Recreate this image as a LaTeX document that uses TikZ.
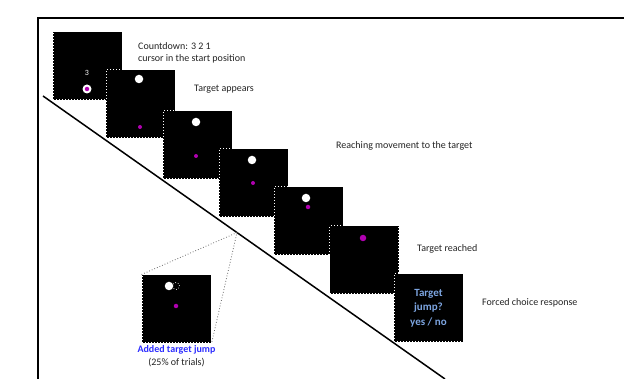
\documentclass[tikz,border=0pt]{standalone}
\usepackage{fontspec}
\setmainfont{Carlito}
\usetikzlibrary{calc}
\usepackage{xcolor}
\definecolor{cursormag}{RGB}{176,0,176}
\definecolor{askblue}{RGB}{125,165,225}
\definecolor{jumpblue}{RGB}{45,45,255}
\definecolor{captiongray}{RGB}{35,35,35}

\tikzset{
  screen/.style={fill=black, draw=white, dash pattern=on 1pt off 2pt, line width=1pt,
    minimum width=69pt, minimum height=68pt, inner sep=0pt},
  target/.style={circle, fill=white, minimum size=8.5pt, inner sep=0pt},
  cursor/.style={circle, fill=cursormag, minimum size=4.5pt, inner sep=0pt},
  caption/.style={anchor=west, text=captiongray, font=\fontsize{10}{12}\selectfont, inner sep=0pt}
}

\begin{document}
\begin{tikzpicture}[x=1pt,y=-1pt]
  \useasboundingbox (0,0) rectangle (624,379);
  % frame and time axis
  \draw[line width=1.2pt] (38,379) -- (38,18) -- (624,18);
  \coordinate (d1) at (43,96);
  \coordinate (d2) at (445,379);
  \draw[line width=1.5pt] (d1) -- (d2);

  % countdown
  \node[screen] (s1) at (87.5,66) {};
  \node[text=white, font=\fontsize{8}{9}\selectfont, inner sep=0pt] (n1) at (87,73) {3};
  \node[target, minimum size=9pt] (t1) at (87,89) {};
  \node[cursor] (c1) at (87,89) {};
  \node[caption] (l1a) at (138,46) {Countdown: 3 2 1};
  \node[caption] (l1b) at (138,59) {cursor in the start position};

  % target appears
  \node[screen] (s2) at (140.5,104) {};
  \node[target] (t2) at (139,79) {};
  \node[cursor, minimum size=4pt] (c2) at (140,127) {};
  \node[caption] (l2) at (194,89) {Target appears};

  % reaching movement
  \node[screen] (s3) at (197.5,145) {};
  \node[target] (t3) at (196,122) {};
  \node[cursor, minimum size=4pt] (c3) at (196,156) {};

  \node[screen] (s4) at (253.5,183) {};
  \node[target] (t4) at (252,160) {};
  \node[cursor, minimum size=4pt] (c4) at (253,183) {};
  \node[caption] (l3) at (336,146) {Reaching movement to the target};

  \node[screen] (s5) at (308.5,221) {};
  \node[target] (t5) at (306,198) {};
  \node[cursor] (c5) at (308,207) {};

  % target reached
  \node[screen] (s6) at (364,260) {};
  \node[cursor, minimum size=6.5pt] (c6) at (363,238) {};
  \node[caption] (l4) at (417,249) {Target reached};

  % response
  \node[screen, text=askblue, align=center, font=\bfseries\fontsize{11}{14.5}\selectfont] (s7) at (428.5,308)
    {Target\\jump?\\yes / no};
  \node[caption] (l5) at (482,303) {Forced choice response};

  % jump trials
  \coordinate (zoom) at ($(d1)!0.4826!(d2)$);
  \node[screen] (sj) at (176.5,309) {};
  \draw[black!60, dotted, line width=0.8pt] (sj.north west) -- (zoom) -- (sj.south east);
  \node[circle, draw=white, dotted, line width=0.7pt, minimum size=7pt, inner sep=0pt] (tj0) at (176,286) {};
  \node[target] (tj) at (169,286) {};
  \node[cursor] (cj) at (176,306) {};
  \node[text=jumpblue, font=\bfseries\fontsize{10}{12}\selectfont, inner sep=0pt] (lj1) at (176.5,350) {Added target jump};
  \node[text=captiongray, font=\fontsize{10}{12}\selectfont, inner sep=0pt] (lj2) at (176.5,363) {(25\% of trials)};
\end{tikzpicture}
\end{document}
